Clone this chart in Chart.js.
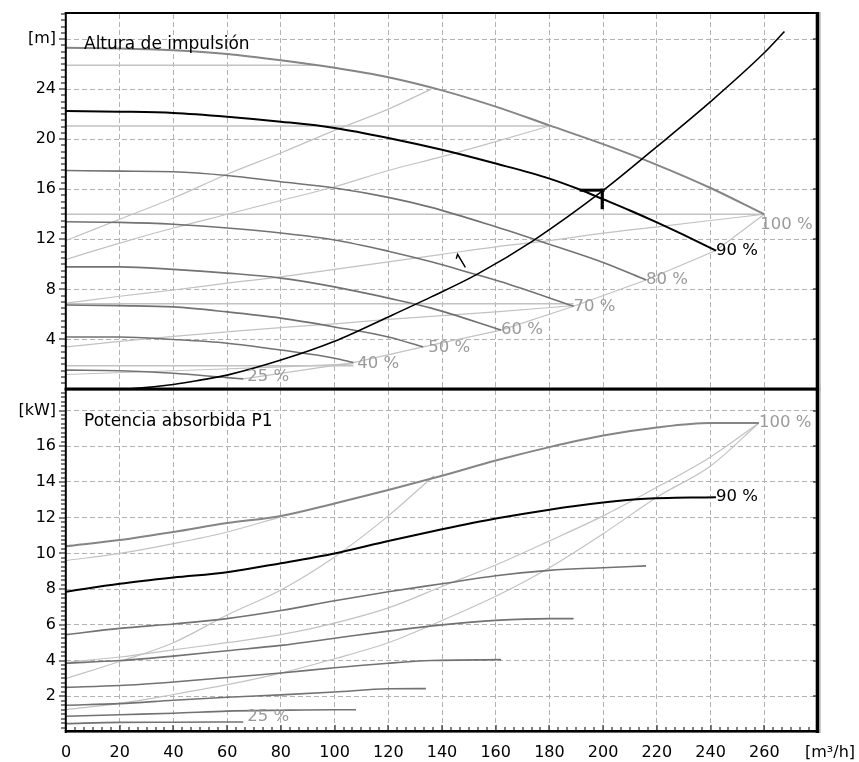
<!DOCTYPE html>
<html>
<head>
<meta charset="utf-8">
<title>Curvas de bomba</title>
<script src="https://cdn.jsdelivr.net/npm/chart.js@4.4.0/dist/chart.umd.min.js"></script>
<style>
  html, body { margin: 0; padding: 0; background: #ffffff; }
  #wrap { position: relative; width: 859px; height: 762px; overflow: hidden; }
  #wrap canvas { position: absolute; left: 0; top: 0; }
</style>
</head>
<body>
<div id="wrap">
  <canvas id="headChart" width="859" height="762"></canvas>
  <canvas id="powerChart" width="859" height="762"></canvas>
</div>
<script>
// ---------- axes ----------
const flowTicks  = [0, 20, 40, 60, 80, 100, 120, 140, 160, 180, 200, 220, 240, 260, 280];
const headTicks  = [4, 8, 12, 16, 20, 24, 28];
const powerTicks = [2, 4, 6, 8, 10, 12, 14, 16, 18];

// ---------- head H [m] vs flow Q [m³/h] ----------
const head100Q = [0, 20, 40, 60, 80, 100, 120, 140, 160, 180, 200, 220, 240, 260];
const head100  = [27.3, 27.25, 27.1, 26.8, 26.3, 25.7, 24.95, 23.9, 22.6, 21.1, 19.6, 17.95, 16.1, 14.0];
const head90Q  = [0, 20, 40, 60, 80, 100, 120, 140, 160, 180, 191, 200, 210, 220, 230, 242];
const head90   = [22.25, 22.2, 22.1, 21.8, 21.4, 20.9, 20.1, 19.15, 18.05, 16.85, 16.0, 15.2, 14.3, 13.35, 12.35, 11.1];
const head80Q  = [0, 20, 40, 60, 80, 100, 120, 136, 160, 180, 200, 216];
const head80   = [17.5, 17.45, 17.4, 17.1, 16.6, 16.1, 15.35, 14.55, 13.0, 11.6, 10.15, 8.75];
const head70Q  = [0, 20, 40, 60, 80, 100, 120, 136, 150, 162, 189];
const head70   = [13.4, 13.35, 13.2, 12.9, 12.5, 11.95, 11.05, 10.2, 9.35, 8.6, 6.65];
const head60Q  = [0, 20, 40, 60, 80, 100, 120, 136, 162];
const head60   = [9.8, 9.8, 9.6, 9.3, 8.9, 8.2, 7.3, 6.5, 4.75];
const head50Q  = [0, 20, 40, 60, 80, 100, 120, 133];
const head50   = [6.75, 6.7, 6.6, 6.2, 5.7, 5.0, 4.2, 3.4];
const head40Q  = [0, 20, 40, 60, 80, 100, 107];
const head40   = [4.2, 4.2, 4.0, 3.7, 3.15, 2.5, 2.15];
const head25Q  = [0, 20, 40, 60, 66];
const head25   = [1.55, 1.5, 1.3, 0.95, 0.85];

// system curve and duty point
const systemQ = [14, 25, 40, 50, 60, 80, 100, 120, 136, 153, 174, 200, 220, 240, 260, 267.5];
const systemH = [0, 0.08, 0.4, 0.75, 1.15, 2.35, 3.85, 5.8, 7.4, 9.2, 11.9, 15.9, 19.4, 23.0, 26.9, 28.6];
const dutyQ = [200];
const dutyH = [15.9];
const pointerQ = [145.3, 145.8, 148.7];
const pointerH = [10.45, 10.8, 9.75];

// thin auxiliary lines in the head diagram
const auxA_Q = [0, 20, 40, 60, 80, 100, 120, 136];
const auxA_H = [11.9, 13.6, 15.3, 17.2, 18.9, 20.7, 22.4, 24.0];
const auxB_Q = [0, 20, 40, 60, 80, 100, 120, 140, 160, 180];
const auxB_H = [10.4, 11.7, 12.9, 14.0, 15.1, 16.2, 17.5, 18.6, 19.8, 21.05];
const auxC_Q = [0, 20, 40, 60, 80, 100, 120, 140, 160, 180, 200, 220, 240, 260];
const auxC_H = [6.9, 7.45, 7.95, 8.5, 9.0, 9.6, 10.2, 10.8, 11.4, 11.9, 12.5, 13.0, 13.5, 14.0];
const auxD_Q = [0, 20, 40, 60, 80, 100, 120, 140, 160, 189];
const auxD_H = [3.4, 3.85, 4.25, 4.6, 4.95, 5.25, 5.6, 5.9, 6.2, 6.7];
const auxE_Q = [0, 40, 80, 107];
const auxE_H = [1.2, 1.5, 1.8, 2.05];
const levelQ = [[0, 93], [0, 180], [0, 260], [0, 189], [0, 107]];
const levelH = [25.9, 21.05, 14.0, 6.85, 1.9];
const maxFlowQ = [66, 107, 133, 162, 189, 216, 242, 260];
const maxFlowH = [0.85, 2.15, 3.4, 4.75, 6.65, 8.75, 11.1, 14.0];

// ---------- power input P1 [kW] vs flow Q [m³/h] ----------
const power100Q = [0, 20, 40, 60, 80, 100, 120, 140, 160, 180, 200, 220, 240, 258];
const power100  = [10.4, 10.75, 11.2, 11.7, 12.1, 12.8, 13.55, 14.35, 15.2, 15.95, 16.6, 17.05, 17.3, 17.3];
const power90Q  = [0, 20, 40, 60, 80, 100, 120, 140, 160, 180, 200, 214, 242];
const power90   = [7.85, 8.3, 8.65, 8.95, 9.45, 10.0, 10.7, 11.35, 11.95, 12.45, 12.85, 13.05, 13.15];
const power80Q  = [0, 20, 40, 60, 80, 100, 120, 140, 160, 180, 200, 216];
const power80   = [5.45, 5.8, 6.05, 6.35, 6.8, 7.35, 7.85, 8.3, 8.75, 9.05, 9.2, 9.3];
const power70Q  = [0, 20, 40, 60, 80, 100, 120, 140, 160, 180, 189];
const power70   = [3.85, 4.0, 4.25, 4.55, 4.85, 5.25, 5.65, 6.0, 6.25, 6.35, 6.35];
const power60Q  = [0, 20, 40, 60, 80, 100, 120, 136, 162];
const power60   = [2.5, 2.6, 2.8, 3.05, 3.3, 3.6, 3.85, 4.0, 4.05];
const power50Q  = [0, 20, 40, 60, 80, 100, 120, 134];
const power50   = [1.5, 1.59, 1.78, 1.95, 2.08, 2.24, 2.42, 2.43];
const power40Q  = [0, 20, 40, 60, 80, 100, 108];
const power40   = [0.88, 0.97, 1.05, 1.17, 1.22, 1.25, 1.25];
const power25Q  = [0, 20, 40, 66];
const power25   = [0.47, 0.54, 0.55, 0.56];

const pAuxA_Q = [0, 20, 40, 60, 80];
const pAuxA_P = [9.6, 10.0, 10.55, 11.2, 12.05];
const pAuxB_Q = [0, 20, 40, 60, 80, 100, 120, 137];
const pAuxB_P = [3.0, 3.95, 5.0, 6.55, 7.95, 9.8, 12.1, 14.35];
const pAuxC_Q = [0, 20, 40, 60, 80, 100, 120, 140, 160, 180, 200, 220, 240, 258];
const pAuxC_P = [3.9, 4.2, 4.6, 5.0, 5.45, 6.1, 6.95, 8.15, 9.35, 10.7, 12.1, 13.7, 15.4, 17.3];
const pAuxD_Q = [0, 20, 40, 60, 80, 100, 120, 137, 160, 180, 200, 220, 240, 258];
const pAuxD_P = [1.25, 1.6, 2.1, 2.65, 3.3, 4.1, 5.0, 6.05, 7.6, 9.2, 11.1, 13.15, 14.9, 17.3];

// ---------- styling ----------
const FONT = '"DejaVu Sans", "Liberation Sans", Arial, sans-serif';
const TEXT = '#000000';
const GRID = '#b2b2b2';
const SPEED = '#727272';
const SPEED_TOP = '#858585';
const THIN = '#c2c2c2';
const LABEL_GRAY = '#9a9a9a';

const pts = (qs, vs) => qs.map((q, i) => ({ x: q, y: vs[i] }));
const curve = (qs, vs, color, width, order, smooth = true) => ({
  data: pts(qs, vs),
  borderColor: color,
  borderWidth: width,
  pointRadius: 0,
  fill: false,
  order: order,
  cubicInterpolationMode: smooth ? 'monotone' : 'default',
  tension: 0
});

// frame, axis tick marks, panel title, curve labels
const panelPlugin = {
  id: 'panel',
  afterDatasetsDraw(chart, args, o) {
    const { ctx, chartArea: a, scales: { x, y } } = chart;
    ctx.save();
    ctx.fillStyle = '#000';
    // left axis ticks (outward) and right axis ticks (inward)
    const nY = Math.round(o.yMax / o.yMinor);
    for (let i = 1; i <= nY; i++) {
      const v = i * o.yMinor;
      const py = Math.round(y.getPixelForValue(v));
      if (py < a.top) continue;
      const major = Math.abs(v / o.yMajor - Math.round(v / o.yMajor)) < 1e-6;
      const len = major ? 6 : 4;
      ctx.fillRect(a.left - 1 - len, py - 0.5, len, 1);
      if (major) ctx.fillRect(a.right - 5, py - 0.5, 4, 1);
    }
    // bottom axis ticks (inward)
    if (o.xAxis) {
      const nX = Math.round(280 / (10 / 3));
      for (let i = 0; i <= nX; i++) {
        const v = i * 10 / 3;
        const px = Math.round(x.getPixelForValue(v));
        const major = Math.abs(v / 20 - Math.round(v / 20)) < 1e-6;
        const len = major ? 5 : 3;
        ctx.fillRect(px - 0.5, a.bottom - 2 - len, 1, len);
      }
    }
    // frame
    ctx.fillRect(a.left - 1.2, a.top - 2, 2, a.bottom - a.top + 3);
    ctx.fillRect(a.left - 1.2, a.top - 2, a.right - a.left + 2, o.topWidth);
    ctx.fillRect(a.left - 1.2, a.bottom - 2, a.right - a.left + 2, 2.6);
    ctx.fillRect(a.right - 2.3, a.top - 2, 3.3, a.bottom - a.top + 3);
    ctx.fillStyle = '#a8a8a8';
    ctx.fillRect(a.right + 1, a.top - 2, 1.6, a.bottom - a.top + 3);

    // duty point marker
    if (o.duty) {
      const px = x.getPixelForValue(o.duty.q);
      const py = y.getPixelForValue(o.duty.h);
      ctx.fillStyle = '#000';
      ctx.fillRect(px - 23.5, py - 1.8, 25, 3);
      ctx.fillRect(px - 2.5, py - 1.8, 3.2, 20.5);
    }

    // panel title
    ctx.font = '17px ' + FONT;
    ctx.textBaseline = 'middle';
    ctx.textAlign = 'left';
    ctx.fillStyle = TEXT;
    ctx.fillText(o.title, a.left + 18, a.top + o.titleDy);

    // speed labels
    ctx.font = '16.5px ' + FONT;
    o.labels.forEach(l => {
      ctx.fillStyle = l.color;
      ctx.fillText(l.text, x.getPixelForValue(l.q) + l.dx, y.getPixelForValue(l.v) + l.dy);
    });

    // flow unit
    if (o.xAxis) {
      ctx.fillStyle = TEXT;
      ctx.font = '16px ' + FONT;
      ctx.fillText('[m³/h]', x.getPixelForValue(280) - 13, 752.5);
    }
    ctx.restore();
  }
};

const yAxis = (max, ticks, unit) => ({
  type: 'linear',
  min: 0,
  max: max,
  afterBuildTicks: s => { s.ticks = ticks.map(v => ({ value: v })); },
  afterFit: s => { s.width = 66; s.paddingTop = 0; s.paddingBottom = 0; },
  grid: { color: GRID, lineWidth: 1, drawTicks: false },
  border: { display: false, dash: [5, 3] },
  ticks: {
    padding: 10,
    color: TEXT,
    font: { family: FONT, size: 16 },
    callback: v => (v === ticks[ticks.length - 1] ? unit : String(v))
  }
});

const xAxis = (showLabels, height) => ({
  type: 'linear',
  min: 0,
  max: 280,
  afterBuildTicks: s => { s.ticks = flowTicks.map(v => ({ value: v })); },
  afterFit: s => { s.height = height; },
  grid: { color: c => (c.tick && (c.tick.value === 0 || c.tick.value === 280) ? 'rgba(0,0,0,0)' : GRID), lineWidth: 1, drawTicks: false },
  border: { display: false, dash: [5, 3] },
  ticks: {
    display: showLabels,
    padding: 11,
    autoSkip: false,
    maxRotation: 0,
    color: TEXT,
    font: { family: FONT, size: 16 },
    callback: v => (v === 280 ? '' : String(v))
  }
});

const baseOptions = {
  responsive: false,
  animation: false,
  events: [],
  plugins: { legend: { display: false }, tooltip: { enabled: false } }
};

// ---------- head chart ----------
const headDatasets = [
  curve(systemQ, systemH, '#000', 1.6, 0),
  curve(pointerQ, pointerH, '#000', 1.4, 0, false),
  curve(head90Q, head90, '#000', 2, 1),
  curve(head100Q, head100, SPEED_TOP, 2, 2),
  curve(head80Q, head80, SPEED, 1.6, 2),
  curve(head70Q, head70, SPEED, 1.6, 2),
  curve(head60Q, head60, SPEED, 1.6, 2),
  curve(head50Q, head50, SPEED, 1.6, 2),
  curve(head40Q, head40, SPEED, 1.6, 2),
  curve(head25Q, head25, SPEED, 1.6, 2),
  curve(auxA_Q, auxA_H, THIN, 1.2, 3),
  curve(auxB_Q, auxB_H, THIN, 1.2, 3),
  curve(auxC_Q, auxC_H, THIN, 1.2, 3),
  curve(auxD_Q, auxD_H, THIN, 1.2, 3),
  curve(auxE_Q, auxE_H, THIN, 1.2, 3),
  curve(maxFlowQ, maxFlowH, THIN, 1.2, 3, false),
  ...levelH.map((h, i) => curve(levelQ[i], [h, h], THIN, 1.4, 3, false))
];

const headLabels = [
  { text: '100 %', q: head100Q.at(-1), v: head100.at(-1), color: LABEL_GRAY, dx: -4, dy: 10 },
  { text: '90 %', q: head90Q.at(-1), v: head90.at(-1), color: '#000', dx: 0, dy: 0 },
  { text: '80 %', q: head80Q.at(-1), v: head80.at(-1), color: LABEL_GRAY, dx: 0, dy: 0 },
  { text: '70 %', q: head70Q.at(-1), v: head70.at(-1), color: LABEL_GRAY, dx: 0, dy: 0 },
  { text: '60 %', q: head60Q.at(-1), v: head60.at(-1), color: LABEL_GRAY, dx: 0, dy: 0 },
  { text: '50 %', q: head50Q.at(-1), v: head50.at(-1), color: LABEL_GRAY, dx: 5, dy: 1 },
  { text: '40 %', q: head40Q.at(-1), v: head40.at(-1), color: LABEL_GRAY, dx: 4, dy: 1 },
  { text: '25 %', q: head25Q.at(-1), v: head25.at(-1), color: LABEL_GRAY, dx: 4, dy: -2 }
];

new Chart(document.getElementById('headChart'), {
  type: 'line',
  data: { datasets: headDatasets },
  options: Object.assign({}, baseOptions, {
    layout: { padding: { top: 14, bottom: 762 - 389.5, left: 0, right: 41 } },
    plugins: Object.assign({}, baseOptions.plugins, {
      panel: {
        yMax: 30, yMinor: 0.5, yMajor: 4, xAxis: false, topWidth: 2,
        title: 'Altura de impulsión', titleDy: 31,
        duty: { q: dutyQ[0], h: dutyH[0] },
        labels: headLabels
      }
    }),
    scales: { x: xAxis(false, 0), y: yAxis(30, headTicks, '[m]') }
  }),
  plugins: [panelPlugin]
});

// ---------- power chart ----------
const powerDatasets = [
  curve(power90Q, power90, '#000', 2, 1),
  curve(power100Q, power100, SPEED_TOP, 2, 2),
  curve(power80Q, power80, SPEED, 1.6, 2),
  curve(power70Q, power70, SPEED, 1.6, 2),
  curve(power60Q, power60, SPEED, 1.6, 2),
  curve(power50Q, power50, SPEED, 1.6, 2),
  curve(power40Q, power40, SPEED, 1.6, 2),
  curve(power25Q, power25, SPEED, 1.6, 2),
  curve(pAuxA_Q, pAuxA_P, THIN, 1.2, 3),
  curve(pAuxB_Q, pAuxB_P, THIN, 1.2, 3),
  curve(pAuxC_Q, pAuxC_P, THIN, 1.2, 3),
  curve(pAuxD_Q, pAuxD_P, THIN, 1.2, 3)
];

const powerLabels = [
  { text: '100 %', q: power100Q.at(-1), v: power100.at(-1), color: LABEL_GRAY, dx: 0, dy: 0 },
  { text: '90 %', q: power90Q.at(-1), v: power90.at(-1), color: '#000', dx: 0, dy: 0 },
  { text: '25 %', q: power25Q.at(-1), v: power25.at(-1), color: LABEL_GRAY, dx: 4, dy: -5 }
];

new Chart(document.getElementById('powerChart'), {
  type: 'line',
  data: { datasets: powerDatasets },
  options: Object.assign({}, baseOptions, {
    layout: { padding: { top: 390, bottom: 0, left: 0, right: 41 } },
    plugins: Object.assign({}, baseOptions.plugins, {
      panel: {
        yMax: 19.15, yMinor: 0.25, yMajor: 2, xAxis: true, topWidth: 2.6,
        title: 'Potencia absorbida P1', titleDy: 32,
        labels: powerLabels
      }
    }),
    scales: { x: xAxis(true, 30), y: yAxis(19.15, powerTicks, '[kW]') }
  }),
  plugins: [panelPlugin]
});
</script>
</body>
</html>
